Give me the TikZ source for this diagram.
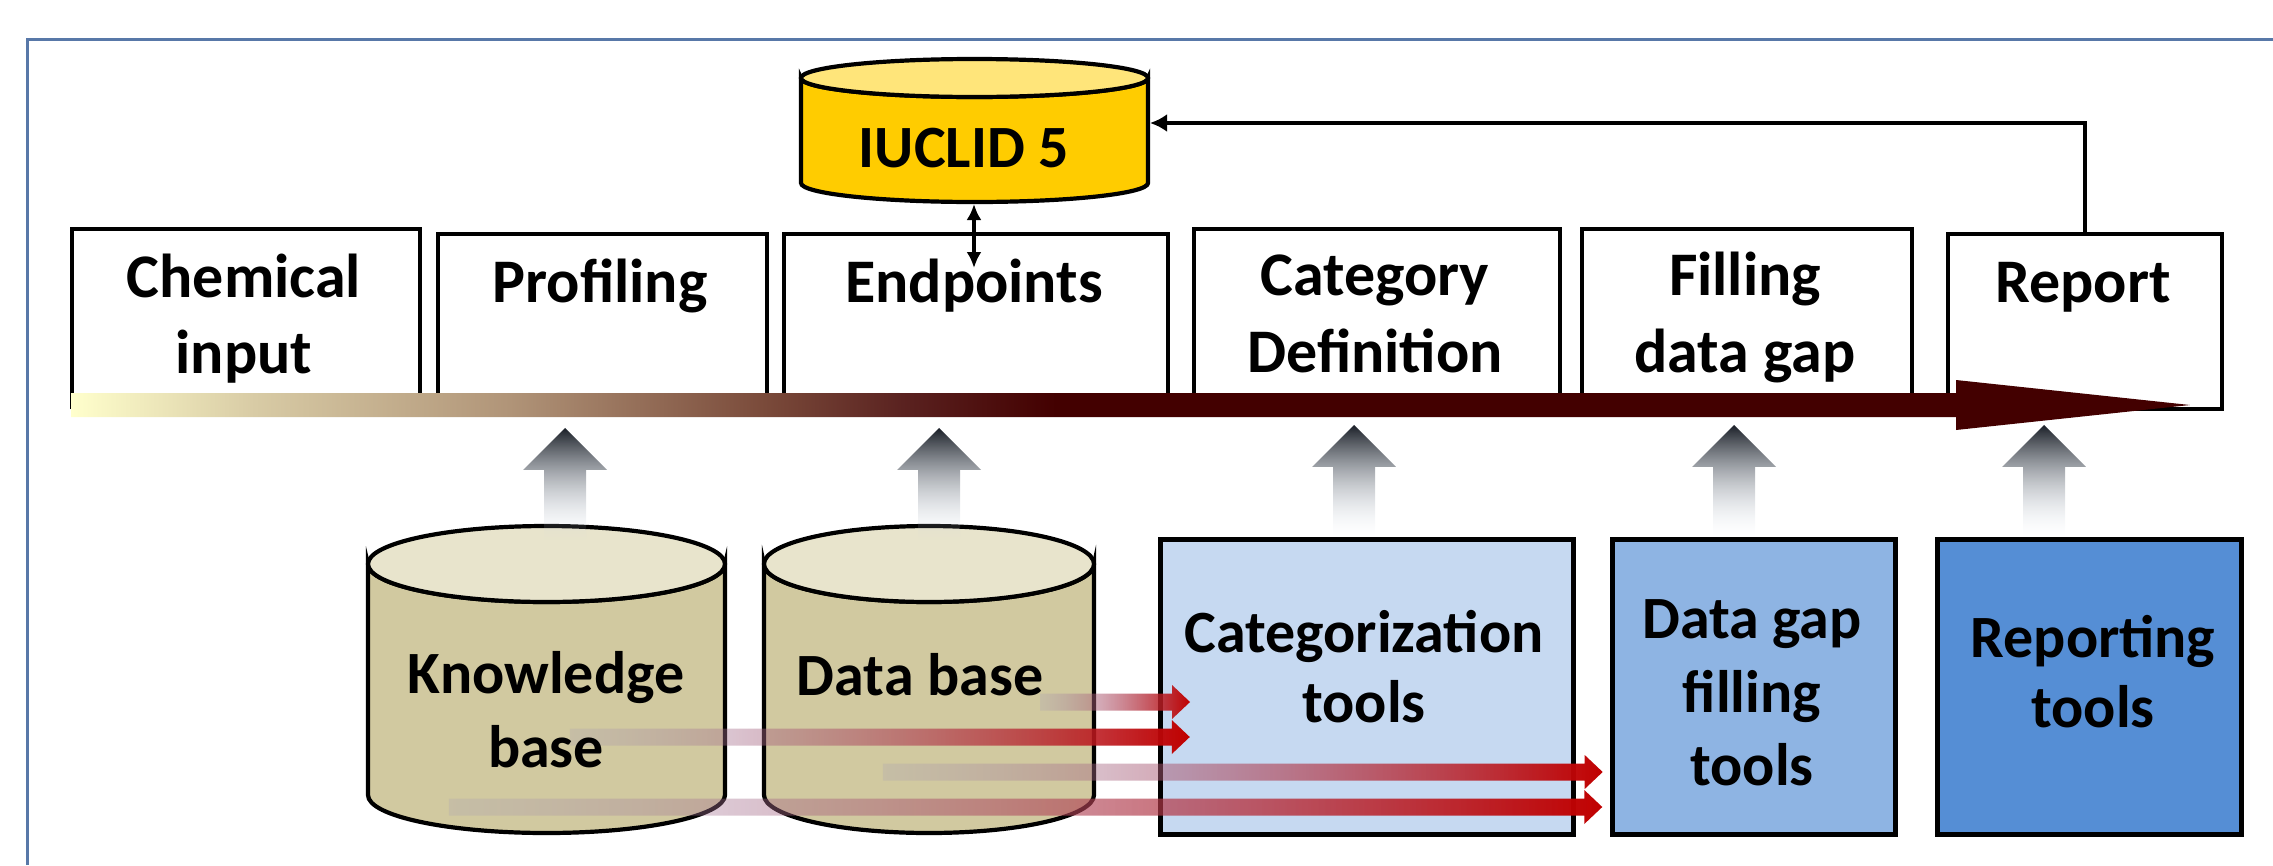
\documentclass[tikz,border=0pt]{standalone}
\usepackage{fontspec}
\setmainfont{Carlito}
\usetikzlibrary{arrows.meta,fadings}

\definecolor{framecol}{HTML}{5878A8}
\definecolor{iucbody}{HTML}{FFCC00}
\definecolor{iuctop}{HTML}{FFE57A}
\definecolor{drumbody}{HTML}{D1C9A0}
\definecolor{drumtop}{HTML}{E8E4CC}
\definecolor{catfill}{HTML}{C6D9F1}
\definecolor{gapfill}{HTML}{8EB4E3}
\definecolor{repfill}{HTML}{558ED5}
\definecolor{updark}{HTML}{1A1F27}
\definecolor{uplight}{HTML}{E2EAF5}
\definecolor{redtip}{HTML}{C00000}
\definecolor{redtail}{HTML}{9C94BC}

% colour ramp of the process bar: pale yellow -> tan -> brown -> maroon
\pgfdeclarehorizontalshading{flowshade}{100bp}{%
  rgb(0bp)=(1,1,0.8); rgb(25bp)=(1,1,0.8);
  rgb(29.34bp)=(0.847,0.796,0.647);
  rgb(35.36bp)=(0.69,0.58,0.47);
  rgb(41.38bp)=(0.478,0.29,0.227);
  rgb(44.63bp)=(0.353,0.133,0.125);
  rgb(48.24bp)=(0.263,0,0);
  rgb(100bp)=(0.263,0,0)}

\tikzfading[name=upfade, top color=transparent!0, middle color=transparent!8, bottom color=transparent!100]
\tikzfading[name=rightfade, left color=transparent!80, right color=transparent!0]

% cylinder: centre x, half width, top ellipse y, bottom ellipse y, ellipse radius, body colour, lid colour
\newcommand\drum[7]{%
  \path[draw=black, line width=4.2pt, fill=#6]
    (#1-#2,#3) -- (#1-#2,#4)
    arc[start angle=180, end angle=0, x radius=#2, y radius=#5]
    -- (#1+#2,#3)
    arc[start angle=0, end angle=180, x radius=#2, y radius=#5] -- cycle;
  \path[draw=black, line width=4.2pt, fill=#7] (#1,#3) ellipse[x radius=#2, y radius=#5];
}

% red feed arrow: start x, tip x, centre y
\newcommand\feed[3]{%
  \shade[left color=redtail, right color=redtip, path fading=rightfade]
    (#1,#3-8.5) -- (#2-18,#3-8.5) -- (#2-18,#3-17) -- (#2,#3)
    -- (#2-18,#3+17) -- (#2-18,#3+8.5) -- (#1,#3+8.5) -- cycle;
}

\tikzset{
  pics/uparrow/.style={code={
    \shade[top color=updark, bottom color=uplight, path fading=upfade]
      (-21,0) -- (-21,-70) -- (-42,-70) -- (0,-112) -- (42,-70) -- (21,-70) -- (21,0) -- cycle;
  }}
}

\begin{document}
\begin{tikzpicture}[x=1pt,y=-1pt,
  topbox/.style={draw=black, line width=4.3pt, fill=white, rectangle, inner sep=0pt, anchor=north west},
  toolbox/.style={draw=black, line width=4.8pt, rectangle, inner sep=0pt, anchor=north west},
  lbltop/.style={font=\fontsize{62}{76}\selectfont\bfseries, anchor=base, inner sep=0pt},
  lblbot/.style={font=\fontsize{60}{73}\selectfont\bfseries, anchor=base, inner sep=0pt},
  link/.style={draw=black, line width=4.6pt},
]
\useasboundingbox (0,0) rectangle (2273,865);

% outer frame
\draw[framecol, line width=3pt] (27.5,865) -- (27.5,39) -- (2273,39);

% process steps
\node[topbox, minimum width=348pt, minimum height=178pt] (chem)   at (70,227)   {};
\node[topbox, minimum width=329pt, minimum height=173pt] (prof)   at (436,232)  {};
\node[topbox, minimum width=384pt, minimum height=173pt] (endp)   at (782,232)  {};
\node[topbox, minimum width=366pt, minimum height=178pt] (catdef) at (1192,227) {};
\node[topbox, minimum width=330pt, minimum height=178pt] (fillgap) at (1580,227) {};
\node[topbox, minimum width=274pt, minimum height=175pt] (report) at (1946,232) {};

% IUCLID database
\drum{974.5}{173.5}{78}{183}{19}{iucbody}{iuctop}
\coordinate (iucright) at (1150,123);
\coordinate (iucbottom) at (974,204);
\coordinate (endpin) at (974,268);
\draw[link, -{Latex[length=17pt,width=18pt]}] (report.north) |- (iucright);
\draw[link, line width=3.6pt, {Latex[length=16pt,width=15pt]}-{Latex[length=16pt,width=15pt]}] (iucbottom) -- (endpin);

% process bar
\shade[shading=flowshade]
  (71,393) -- (1956,393) -- (1956,380) -- (2190,405) -- (1956,430) -- (1956,417) -- (71,417) -- cycle;

% labels of the steps
\node[lbltop] (chem-a)    at (244,297)  {Chemical};
\node[lbltop] (chem-b)    at (244,373)  {input};
\node[lbltop] (prof-a)    at (600,302)  {Profiling};
\node[lbltop] (endp-a)    at (974,302)  {Endpoints};
\node[lbltop] (catdef-a)  at (1375,295) {Category};
\node[lbltop] (catdef-b)  at (1375,372) {Definition};
\node[lbltop] (fillgap-a) at (1745,295) {Filling};
\node[lbltop] (fillgap-b) at (1745,372) {data gap};
\node[lbltop] (report-a)  at (2083,302) {Report};
\node[lblbot] (iuc-a)     at (964,167)  {IUCLID 5};

% knowledge and data stores
\drum{546.5}{178.5}{564}{795}{38}{drumbody}{drumtop}
\drum{929}{165}{564}{795}{38}{drumbody}{drumtop}

% tool blocks
\node[toolbox, fill=catfill, minimum width=413pt, minimum height=295pt] (cattool) at (1158,537) {};
\node[toolbox, fill=gapfill, minimum width=283pt, minimum height=295pt] (gaptool) at (1610,537) {};
\node[toolbox, fill=repfill, minimum width=304pt, minimum height=295pt] (reptool) at (1935,537) {};

% supply arrows into the process bar
\pic at (565,540)  {uparrow};
\pic at (939,540)  {uparrow};
\pic at (1354,537) {uparrow};
\pic at (1734,537) {uparrow};
\pic at (2044,537) {uparrow};

% feeds from the stores into the tools
\feed{1040}{1190}{702}
\feed{570}{1190}{737}
\feed{883}{1603}{772}
\feed{449}{1603}{807}

% labels of the stores and tools
\node[lblbot] (kb-a)  at (546,693)  {Knowledge};
\node[lblbot] (kb-b)  at (546,767)  {base};
\node[lblbot] (db-a)  at (920,695)  {Data base};
\node[lblbot] (cat-a) at (1364,652) {Categorization};
\node[lblbot] (cat-b) at (1364,722) {tools};
\node[lblbot] (gap-a) at (1752,638) {Data gap};
\node[lblbot] (gap-b) at (1752,712) {filling};
\node[lblbot] (gap-c) at (1752,785) {tools};
\node[lblbot] (rep-a) at (2093,657) {Reporting};
\node[lblbot] (rep-b) at (2093,727) {tools};
\end{tikzpicture}
\end{document}
